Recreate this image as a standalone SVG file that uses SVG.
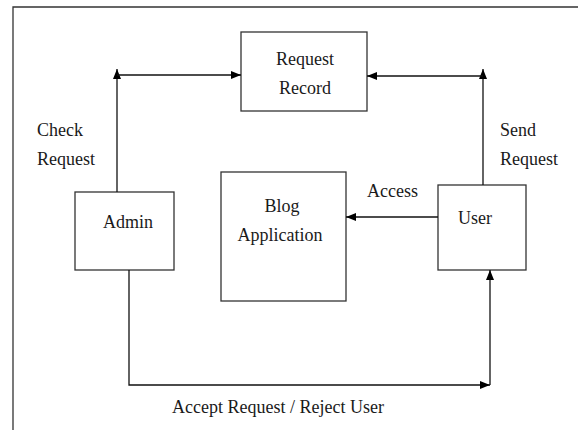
<svg xmlns="http://www.w3.org/2000/svg" width="578" height="430" viewBox="0 0 578 430">
<style>
.box{fill:#fff;stroke:#333;stroke-width:1.3}
.t{font-family:"Liberation Serif","Times New Roman",serif;font-size:18px;fill:#1a1a1a}
.c{fill:none;stroke:#111;stroke-width:1.3}
</style>
<defs>
<marker id="ah" markerUnits="userSpaceOnUse" markerWidth="10" markerHeight="10" viewBox="0 0 10 10" refX="10" refY="5" orient="auto">
<path d="M0,1 L10,5 L0,9 Z" fill="#000"/>
</marker>
</defs>
<rect width="578" height="430" fill="#fff"/>
<path d="M13,430 V7 H578" fill="none" stroke="#333" stroke-width="1.3"/>
<g id="request-record">
<rect class="box" x="241" y="32" width="126" height="79"/>
<text class="t" x="305" y="65" text-anchor="middle">Request</text>
<text class="t" x="305" y="94" text-anchor="middle">Record</text>
</g>
<g id="admin">
<rect class="box" x="75" y="192" width="99" height="78"/>
<text class="t" x="103" y="228">Admin</text>
</g>
<g id="blog-application">
<rect class="box" x="221" y="172" width="125" height="129"/>
<text class="t" x="282" y="212" text-anchor="middle">Blog</text>
<text class="t" x="280" y="241" text-anchor="middle">Application</text>
</g>
<g id="user">
<rect class="box" x="438" y="185" width="88" height="85"/>
<text class="t" x="458" y="224">User</text>
</g>
<g id="connectors">
<path class="c" d="M117,192 V69" marker-end="url(#ah)"/>
<path class="c" d="M117,75 H241" marker-end="url(#ah)"/>
<path class="c" d="M483,185 V69" marker-end="url(#ah)"/>
<path class="c" d="M483,76 H367" marker-end="url(#ah)"/>
<path class="c" d="M438,217 H346" marker-end="url(#ah)"/>
<path class="c" d="M129,270 V385 H490" marker-end="url(#ah)"/>
<path class="c" d="M490,385 V270" marker-end="url(#ah)"/>
<text class="t" x="37" y="136">Check</text>
<text class="t" x="37" y="165">Request</text>
<text class="t" x="500" y="136">Send</text>
<text class="t" x="500" y="165">Request</text>
<text class="t" x="367" y="197">Access</text>
<text class="t" x="172" y="413">Accept Request / Reject User</text>
</g>
</svg>
